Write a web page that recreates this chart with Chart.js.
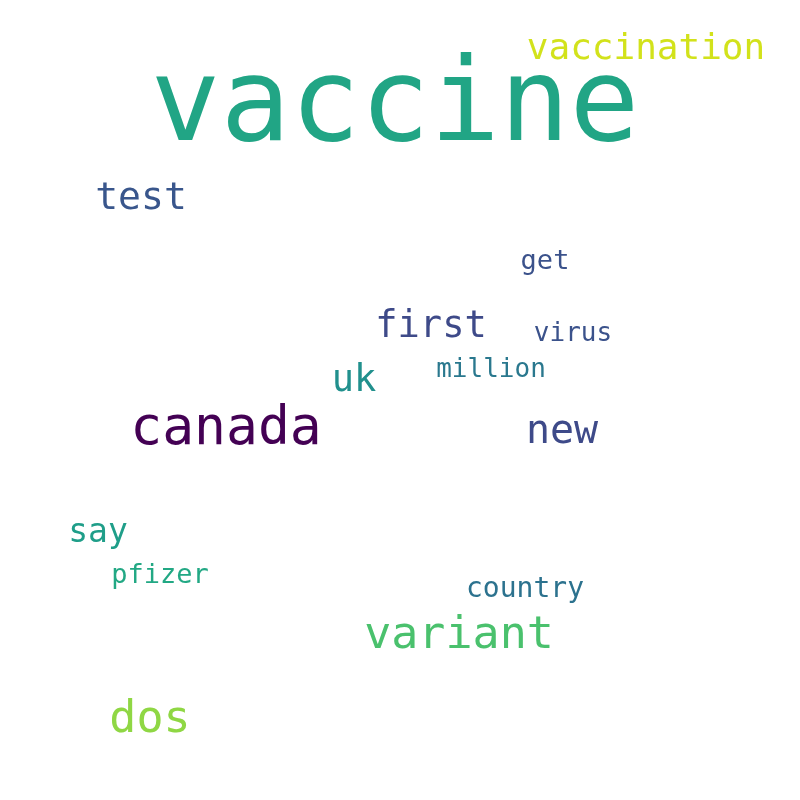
<!DOCTYPE html>
<html>
<head>
<meta charset="utf-8">
<script src="https://cdn.jsdelivr.net/npm/chart.js@4"></script>
<style>
  html, body { margin: 0; padding: 0; background: #ffffff; }
  #wrap { width: 800px; height: 800px; }
</style>
</head>
<body>
<div id="wrap"><canvas id="cloud"></canvas></div>
<script>
// word cloud data: word, relative weight (font px), placement in the 800x800 layout
var words   = ["vaccine", "vaccination", "test", "get", "first", "virus", "uk", "million",
               "canada", "new", "say", "pfizer", "country", "variant", "dos"];
var weights = [116, 36, 38, 27, 37, 26, 37, 26, 53, 40, 33, 27, 28, 45, 45];
var xs      = [395, 646, 141, 545, 431, 573, 354, 491, 226, 562, 98, 160, 525, 459, 150];
var ys      = [110, 50, 199, 262, 327, 334, 381, 370, 430, 433, 533, 576, 590, 636, 720];
var colors  = ["#21a585", "#d2e21b", "#39568c", "#3b528b", "#3e4a89", "#3b528b", "#21908d", "#2a788e",
               "#440154", "#3e4a89", "#1f9e89", "#22a884", "#2c728e", "#4ac16d", "#8fd744"];

var points = [];
for (let i = 0; i < words.length; i++) {
  points.push({ x: xs[i], y: ys[i] });
}

// draws each word at its point through the chart scales
var wordPlugin = {
  id: 'words',
  afterDatasetsDraw: function(chart) {
    var ctx = chart.ctx;
    var xScale = chart.scales.x;
    var yScale = chart.scales.y;
    ctx.save();
    ctx.textAlign = 'center';
    ctx.textBaseline = 'middle';
    for (let i = 0; i < words.length; i++) {
      ctx.font = weights[i] + 'px "DejaVu Sans Mono"';
      ctx.fillStyle = colors[i];
      ctx.fillText(words[i], xScale.getPixelForValue(xs[i]), yScale.getPixelForValue(ys[i]));
    }
    ctx.restore();
  }
};

new Chart(document.getElementById('cloud'), {
  type: 'scatter',
  data: {
    datasets: [{
      data: points,
      pointRadius: 0,
      pointHoverRadius: 0
    }]
  },
  options: {
    responsive: true,
    maintainAspectRatio: false,
    animation: false,
    layout: { padding: 0 },
    plugins: { legend: { display: false }, tooltip: { enabled: false } },
    scales: {
      x: { type: 'linear', min: 0, max: 800, display: false },
      y: { type: 'linear', min: 0, max: 800, reverse: true, display: false }
    }
  },
  plugins: [wordPlugin]
});
</script>
</body>
</html>
